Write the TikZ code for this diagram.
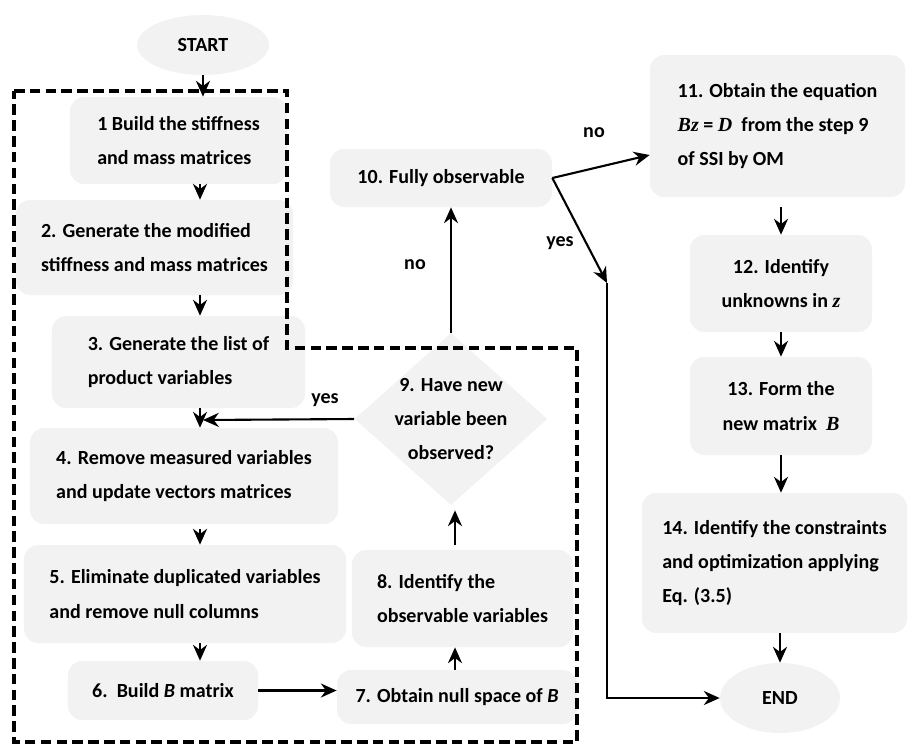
\documentclass[tikz,border=0pt]{standalone}
\usepackage{amsmath}
\usepackage{fontspec}
\setmainfont{Carlito}
\newfontfamily\cambria{Liberation Serif}
\newcommand{\mvar}[1]{{\cambria\bfseries\itshape #1}}
\usetikzlibrary{positioning,calc}
\usetikzlibrary{arrows.meta}
\usetikzlibrary{shapes.geometric}
\definecolor{boxgray}{RGB}{242,242,242}

\tikzset{
  stage/.style={fill=boxgray, rounded corners=8pt, align=left, font=\fontsize{11.4}{19.5}\selectfont\bfseries},
  term/.style={ellipse, fill=boxgray, font=\fontsize{11.4}{13}\selectfont\bfseries},
  tag/.style={font=\fontsize{11.4}{13}\selectfont\bfseries},
  frame/.style={line width=1.8pt, dash pattern=on 6pt off 3pt},
  flow/.style={-{Stealth[length=9pt,width=8pt]}, line width=1.2pt}
}

\begin{document}
\begin{tikzpicture}[x=0.2mm, y=-0.2mm]
\useasboundingbox (0,0) rectangle (909,745);
% left column
\node[term, minimum width=2.64cm, minimum height=1.2cm] (start) at (203,45) {START};
\node[stage, minimum width=4.34cm, minimum height=1.74cm] (b1) at (178.5,140.5) {1 Build the stiffness\\and mass matrices};
\node[stage, minimum width=5.54cm, minimum height=1.9cm] (b2) at (154.5,247.5) {2. Generate the modified\\stiffness and mass matrices};
\node[stage, minimum width=5.06cm, minimum height=1.84cm] (b3) at (178.5,362) {3. Generate the list of\\product variables};
\node[stage, minimum width=6.16cm, minimum height=1.92cm] (b4) at (184,476) {4. Remove measured variables\\and update vectors matrices};
\node[stage, minimum width=6.44cm, minimum height=1.96cm] (b5) at (185,594) {5. Eliminate duplicated variables\\and remove null columns};
\node[stage, minimum width=3.8cm, minimum height=1.18cm] (b6) at (163,690.5) {6.~~Build \textit{B} matrix};
% middle column
\node[stage, minimum width=4.8cm, minimum height=1.08cm] (b7) at (457,697) {7. Obtain null space of \textit{B}};
\node[stage, minimum width=4.42cm, minimum height=1.94cm] (b8) at (462.5,598.5) {8. Identify the\\observable variables};
\node[diamond, aspect=1.12, fill=boxgray, minimum width=3.86cm, minimum height=3.44cm, inner sep=-5pt,
  align=center, font=\fontsize{11.4}{19.5}\selectfont\bfseries] (q9) at (451,419) {9. Have new\\variable been\\observed?};
\node[stage, minimum width=4.44cm, minimum height=1.16cm] (b10) at (441,178) {10. Fully observable};
% right column
\node[stage, minimum width=5.1cm, minimum height=2.84cm] (b11) at (777.5,126) {11. Obtain the equation\\\mvar{Bz} = \mvar{D}~ from the step 9\\of SSI by OM};
\node[stage, align=center, minimum width=3.64cm, minimum height=1.94cm] (b12) at (781,283.5) {12. Identify\\unknowns in \mvar{z}};
\node[stage, align=center, minimum width=3.64cm, minimum height=1.96cm] (b13) at (781,406) {13. Form the\\new matrix~ \mvar{B}};
\node[stage, minimum width=5.3cm, minimum height=2.8cm] (b14) at (774.5,563) {14. Identify the constraints\\and optimization applying\\Eq. (3.5)};
\node[term, minimum width=2.4cm, minimum height=1.4cm] (finish) at (780,698) {END};

% labels
\node[tag] (no1) at (415,265) {no};
\node[tag] (no2) at (594,133) {no};
\node[tag] (yes1) at (560,243) {yes};
\node[tag] (yes2) at (325,400) {yes};

\coordinate (col) at (200,0);
\coordinate (rcol) at (455,0);
\coordinate (merge) at (203,420);
\coordinate (bend) at (607,283);

% dashed block
\draw[frame] (14,91) -- (287,91) -- (287,348) -- (577,348) -- (577,742) -- (14,742) -- cycle;

% arrows
\draw[flow] (start.south) -- (start.south |- b1.north);
\draw[flow] (b1.south -| col) -- (b2.north -| col);
\draw[flow] (b2.south -| col) -- (b3.north -| col);
\draw[flow] (b3.south -| col) -- (b4.north -| col);
\draw[flow] (q9.west) -- (merge);
\draw[flow, shorten <=1mm] (b4.south -| col) -- (b5.north -| col);
\draw[flow] (b5.south -| col) -- (b6.north -| col);
\draw[flow] (b6.east) -- (b7.west |- b6.east);
\draw[flow] (b7.north -| rcol) -- (b8.south -| rcol);
\draw[flow, shorten <=1mm, shorten >=1mm] (b8.north -| rcol) -- (q9.south -| rcol);
\draw[flow] (q9.north) -- (q9.north |- b10.south);
\draw[flow] (b10.east) -- ($(b11.west)+(0,29)$);
\draw[flow] (b10.east) -- (bend);
\draw[flow] (bend) |- (finish.west);
\draw[flow, shorten <=2mm] (b11.south -| b12.north) -- (b12.north);
\draw[flow] (b12.south) -- (b13.north);
\draw[flow] (b13.south) -- (b13.south |- b14.north);
\draw[flow] (finish.north |- b14.south) -- (finish.north);
\end{tikzpicture}
\end{document}
